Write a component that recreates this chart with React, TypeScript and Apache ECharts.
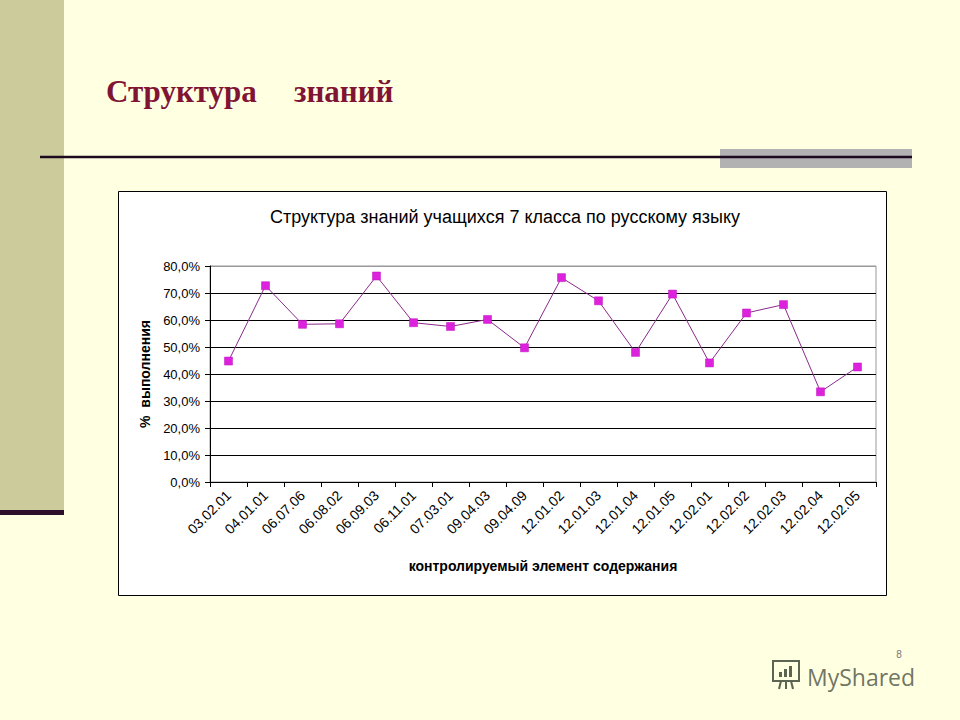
import React, { useEffect, useRef } from "react";
import * as echarts from "echarts";

const categories = [
  "03.02.01", "04.01.01", "06.07.06", "06.08.02", "06.09.03", "06.11.01",
  "07.03.01", "09.04.03", "09.04.09", "12.01.02", "12.01.03", "12.01.04",
  "12.01.05", "12.02.01", "12.02.02", "12.02.03", "12.02.04", "12.02.05",
];
const values = [
  44.8, 72.7, 58.4, 58.6, 76.3, 59.0, 57.6, 60.2, 49.7,
  75.7, 67.1, 48.0, 69.6, 44.1, 62.6, 65.7, 33.4, 42.6,
];
const yMin = 0;
const yMax = 80;
const yStep = 10;

const slideTitleParts = ["Структура", "знаний"];
const chartTitle = "Структура знаний учащихся 7 класса по русскому языку";
const yName = "%  выполнения";
const xName = "контролируемый элемент содержания";

export default function App() {
  const ref = useRef<HTMLDivElement>(null);
  useEffect(() => {
    if (!ref.current) return;
    const chart = echarts.init(ref.current, null, { renderer: "svg" });
    const sans = "'Liberation Sans', Arial, sans-serif";
    const serif = "'Liberation Serif', 'Times New Roman', serif";
    const nTicks = (yMax - yMin) / yStep;
    const splitColors: string[] = [];
    for (let i = 0; i < nTicks; i++) splitColors.push("#000000");
    splitColors.push("#999999");
    chart.setOption({
      animation: false,
      backgroundColor: "#FFFFE2",
      title: {
        text: chartTitle,
        left: 500,
        top: 203,
        textAlign: "center",
        textStyle: { fontFamily: sans, fontSize: 18, fontWeight: "normal", color: "#000" },
      },
      graphic: [
        { type: "rect", z: -20, shape: { x: 0, y: 0, width: 64, height: 510 }, style: { fill: "#CCCB9C" } },
        { type: "rect", z: -20, shape: { x: 0, y: 510, width: 64, height: 5 }, style: { fill: "#2B0F2B" } },
        { type: "rect", z: -20, shape: { x: 720, y: 149, width: 192, height: 19 }, style: { fill: "#B2B2B2" } },
        { type: "line", z: -19, shape: { x1: 40, y1: 157, x2: 912, y2: 157 }, style: { stroke: "#1E0A1E", lineWidth: 2.5 } },
        {
          type: "text", z: -19, x: 106, y: 91,
          style: { text: slideTitleParts[0], fontFamily: serif, fontWeight: "bold", fontSize: 31, fill: "#7F1434", verticalAlign: "middle", align: "left" },
        },
        {
          type: "text", z: -19, x: 294, y: 91,
          style: { text: slideTitleParts[1], fontFamily: serif, fontWeight: "bold", fontSize: 31, fill: "#7F1434", verticalAlign: "middle", align: "left" },
        },
        {
          type: "rect", z: -15,
          shape: { x: 118.5, y: 191.5, width: 768, height: 404 },
          style: { fill: "#FFFFFF", stroke: "#000000", lineWidth: 1 },
        },
        {
          type: "group", z: -15, x: 770, y: 658,
          children: [
            { type: "rect", shape: { x: 3, y: 3, width: 26, height: 20 }, style: { fill: "none", stroke: "#5E6452", lineWidth: 2 } },
            { type: "rect", shape: { x: 9, y: 14, width: 3, height: 5 }, style: { fill: "#5E6452" } },
            { type: "rect", shape: { x: 14, y: 11, width: 3, height: 8 }, style: { fill: "#5E6452" } },
            { type: "rect", shape: { x: 19, y: 8, width: 3, height: 11 }, style: { fill: "#5E6452" } },
            { type: "line", shape: { x1: 11, y1: 23, x2: 9, y2: 31 }, style: { stroke: "#5E6452", lineWidth: 2 } },
            { type: "line", shape: { x1: 16, y1: 23, x2: 16, y2: 31 }, style: { stroke: "#5E6452", lineWidth: 2 } },
            { type: "line", shape: { x1: 21, y1: 23, x2: 23, y2: 31 }, style: { stroke: "#5E6452", lineWidth: 2 } },
          ],
        },
        {
          type: "text", z: -15, x: 807, y: 677,
          style: { text: "MyShared", fontFamily: "'Open Sans', sans-serif", fontSize: 23, fill: "#5E6452", align: "left", verticalAlign: "middle", opacity: 0.9 },
        },
        {
          type: "text", z: -14, x: 899, y: 659,
          style: { text: "8", fontFamily: sans, fontSize: 10, fill: "#777", align: "center", verticalAlign: "bottom" },
        },
      ],
      grid: {
        left: 210,
        right: 84,
        top: 266,
        bottom: 238,
        show: true,
        borderColor: "#999999",
        borderWidth: 1,
        backgroundColor: "#FFFFFF",
        containLabel: false,
      },
      xAxis: {
        type: "category",
        data: categories,
        boundaryGap: true,
        name: xName,
        nameLocation: "middle",
        nameGap: 77,
        nameTextStyle: { fontFamily: sans, fontSize: 14, fontWeight: "bold", color: "#000" },
        axisLine: { show: true, lineStyle: { color: "#000", width: 1 } },
        axisTick: { show: true, inside: false, length: 5, alignWithLabel: false, interval: 0, lineStyle: { color: "#000" } },
        axisLabel: { interval: 0, rotate: 45, margin: 11, fontFamily: sans, fontSize: 14, color: "#000" },
        splitLine: { show: false },
      },
      yAxis: {
        type: "value",
        min: yMin,
        max: yMax,
        interval: yStep,
        name: yName,
        nameLocation: "middle",
        nameRotate: 90,
        nameGap: 56,
        nameTextStyle: { fontFamily: sans, fontSize: 14, fontWeight: "bold", color: "#000" },
        axisLine: { show: true, lineStyle: { color: "#000", width: 1 } },
        axisTick: { show: true, inside: false, length: 5, lineStyle: { color: "#000" } },
        axisLabel: {
          margin: 10,
          fontFamily: sans,
          fontSize: 13,
          color: "#000",
          formatter: (v: number) => v.toFixed(1).replace(".", ",") + "%",
        },
        splitLine: { show: true, lineStyle: { color: splitColors, width: 1 } },
      },
      series: [
        {
          type: "line",
          data: values,
          symbol: "rect",
          symbolSize: 8,
          lineStyle: { color: "#8A2A8A", width: 1 },
          itemStyle: { color: "#DD22DD", borderColor: "#C010C0", borderWidth: 0.5 },
        },
      ],
    });
    return () => chart.dispose();
  }, []);
  return (
    <div
      ref={ref}
      style={{ position: "absolute", left: 0, top: 0, width: 960, height: 720 }}
    />
  );
}
